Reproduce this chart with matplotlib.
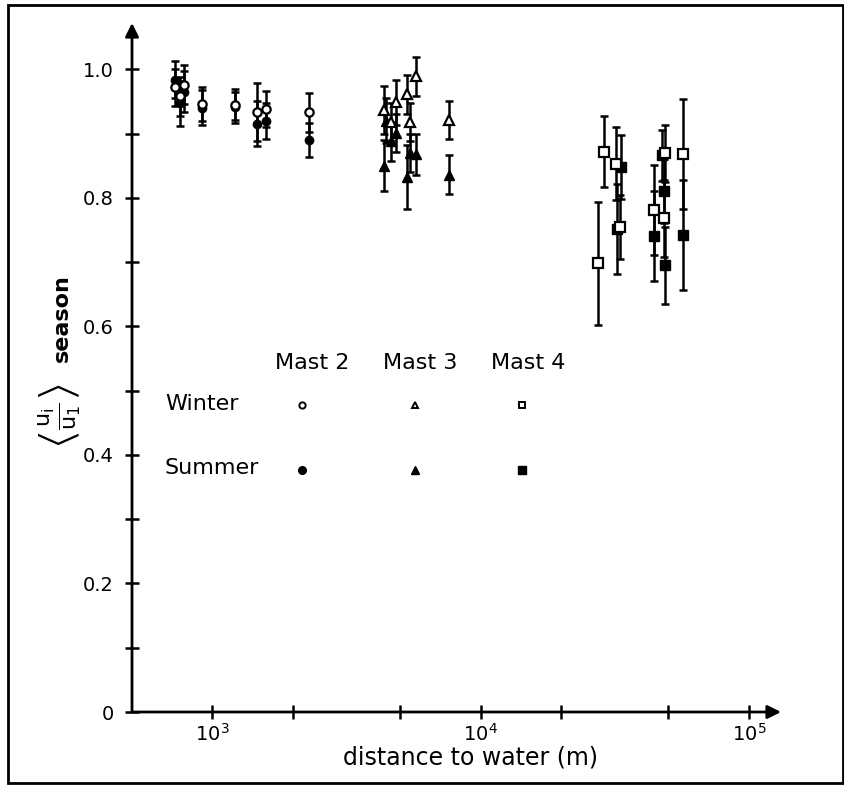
import matplotlib.pyplot as plt
from matplotlib.patches import Rectangle
from matplotlib.ticker import FixedLocator, NullFormatter

# Mast 2 (circles)
m2_dist = [730, 760, 785, 920, 1220, 1470, 1590, 2290]
m2_win = [0.972, 0.958, 0.976, 0.946, 0.945, 0.933, 0.938, 0.933]
m2_win_err = [0.029, 0.03, 0.03, 0.027, 0.024, 0.045, 0.028, 0.03]
m2_sum = [0.984, 0.947, 0.965, 0.940, 0.941, 0.915, 0.919, 0.890]
m2_sum_err = [0.029, 0.035, 0.032, 0.027, 0.024, 0.035, 0.028, 0.026]

# Mast 3 (triangles)
m3w_dist = [4380, 4640, 4830, 5310, 5460, 5750, 7650]
m3_win = [0.937, 0.918, 0.949, 0.961, 0.918, 0.989, 0.921]
m3_win_err = [0.037, 0.03, 0.035, 0.03, 0.03, 0.03, 0.03]
m3s_dist = [4380, 4450, 4640, 4830, 5310, 5460, 5750, 7650]
m3_sum = [0.850, 0.920, 0.888, 0.901, 0.832, 0.870, 0.868, 0.836]
m3_sum_err = [0.04, 0.035, 0.03, 0.03, 0.05, 0.03, 0.032, 0.03]

# Mast 4 (squares)
m4w_dist = [27500, 28900, 32000, 33100, 44300, 48300, 48640, 56900]
m4_win = [0.698, 0.872, 0.853, 0.755, 0.781, 0.768, 0.869, 0.868]
m4_win_err = [0.096, 0.055, 0.057, 0.05, 0.07, 0.06, 0.045, 0.085]
m4s_dist = [32300, 33300, 44300, 47300, 48300, 48640, 56900]
m4_sum = [0.752, 0.848, 0.741, 0.866, 0.811, 0.695, 0.742]
m4_sum_err = [0.07, 0.05, 0.07, 0.04, 0.05, 0.06, 0.085]

W, H = 845, 785


def fx(x):
    return x / W


def fy(y):
    return 1 - y / H


plt.rcParams['font.family'] = 'DejaVu Sans'
plt.rcParams['mathtext.fontset'] = 'dejavusans'
plt.rcParams['mathtext.default'] = 'regular'

fig = plt.figure(figsize=(8.45, 7.85), dpi=100)
ax = fig.add_axes([fx(132), fy(712), fx(781) - fx(132), fy(23) - fy(712)])

ax.set_xscale('log')
ax.set_xlim(10 ** 2.702, 10 ** 5.119)
ax.set_ylim(0, 1.072)

eb = dict(fmt='none', ecolor='black', elinewidth=1.8, capsize=3, capthick=1.8, zorder=2)
ax.errorbar(m2_dist, m2_win, yerr=m2_win_err, **eb)
ax.errorbar(m2_dist, m2_sum, yerr=m2_sum_err, **eb)
ax.errorbar(m3w_dist, m3_win, yerr=m3_win_err, **eb)
ax.errorbar(m3s_dist, m3_sum, yerr=m3_sum_err, **eb)
ax.errorbar(m4w_dist, m4_win, yerr=m4_win_err, **eb)
ax.errorbar(m4s_dist, m4_sum, yerr=m4_sum_err, **eb)

ax.plot(m2_dist, m2_sum, 'o', ms=6, mfc='black', mec='black', zorder=3)
ax.plot(m2_dist, m2_win, 'o', ms=6, mfc='white', mec='black', mew=1.6, zorder=4)
ax.plot(m3s_dist, m3_sum, '^', ms=6.5, mfc='black', mec='black', zorder=3)
ax.plot(m3w_dist, m3_win, '^', ms=6.5, mfc='white', mec='black', mew=1.6, zorder=4)
ax.plot(m4s_dist, m4_sum, 's', ms=7, mfc='black', mec='black', zorder=3)
ax.plot(m4w_dist, m4_win, 's', ms=7, mfc='white', mec='black', mew=1.6, zorder=4)

# axes drawn as arrows
for s in ax.spines.values():
    s.set_visible(False)
arr = dict(arrowstyle='-|>', color='black', lw=2, shrinkA=0, shrinkB=0, mutation_scale=20)
ax.annotate('', xy=(1, 0), xytext=(0, 0), xycoords='axes fraction', arrowprops=arr)
ax.annotate('', xy=(0, 1), xytext=(0, 0), xycoords='axes fraction', arrowprops=arr)

ax.set_yticks([0, 0.2, 0.4, 0.6, 0.8, 1.0])
ax.set_yticklabels(['0', '0.2', '0.4', '0.6', '0.8', '1.0'])
ax.yaxis.set_minor_locator(FixedLocator([0.1, 0.3, 0.5, 0.7, 0.9]))
ax.set_xticks([1e3, 1e4, 1e5])
ax.xaxis.set_minor_locator(FixedLocator([2e3, 5e3, 2e4, 5e4]))
ax.xaxis.set_minor_formatter(NullFormatter())
ax.tick_params(which='both', direction='inout', length=10, width=1.8, labelsize=14)
ax.tick_params(axis='y', pad=8)
ax.tick_params(axis='x', pad=3)

fig.text(fx(471), fy(758), 'distance to water (m)', fontsize=17, ha='center', va='center')
# y label: <u_i/u_1> season
fig.text(fx(62), fy(318), 'season', fontsize=16, fontweight='bold',
         rotation=90, ha='center', va='center')
fig.text(fx(60), fy(416), r'$\left\langle\frac{u_i}{u_1}\right\rangle$',
         fontsize=23, rotation=90, ha='center', va='center')

# legend block
for xm, lab in zip([312, 420, 528], ['Mast 2', 'Mast 3', 'Mast 4']):
    fig.text(fx(xm), fy(363), lab, fontsize=16, ha='center', va='center')
fig.text(fx(165), fy(404), 'Winter', fontsize=16, ha='left', va='center')
fig.text(fx(165), fy(468), 'Summer', fontsize=16, ha='left', va='center')
legend_x = [302, 415, 522]
legend_m = ['o', '^', 's']
for xm, m in zip(legend_x, legend_m):
    ax.plot(fx(xm), fy(405), m, ms=4.5, mfc='white', mec='black', mew=1.4,
            transform=fig.transFigure, clip_on=False)
    ax.plot(fx(xm), fy(470), m, ms=5.5, mfc='black', mec='black',
            transform=fig.transFigure, clip_on=False)

fig.patches.append(Rectangle((fx(8), fy(783)), fx(843) - fx(8), fy(5) - fy(783),
                             fill=False, lw=2, ec='black', transform=fig.transFigure))

fig.savefig('out.png', dpi=100)
